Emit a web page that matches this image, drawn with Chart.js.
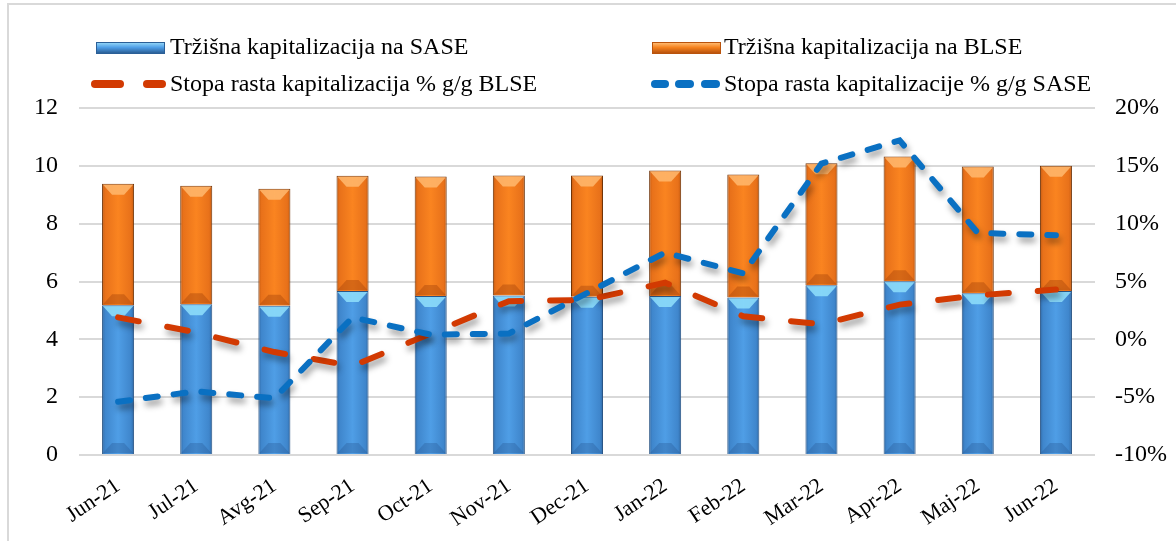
<!DOCTYPE html>
<html>
<head>
<meta charset="utf-8">
<script src="https://cdn.jsdelivr.net/npm/chart.js@4/dist/chart.umd.min.js"></script>
<style>
  html, body { margin: 0; padding: 0; background: #fff; }
  #wrap { position: relative; width: 1176px; height: 541px; overflow: hidden; font-family: "Liberation Serif", "Times New Roman", serif; }
  #frame { position: absolute; left: 7px; top: 3px; width: 1300px; height: 700px; border-left: 2px solid #d9d9d9; border-top: 2px solid #d9d9d9; }
  canvas { position: absolute; left: 0; top: 0; }
  .lg { position: absolute; font-size: 24px; color: #000; line-height: 24px; white-space: nowrap; }
  .mk { position: absolute; }
</style>
</head>
<body>
<div id="wrap">
  <div id="frame"></div>
  <canvas id="c" width="1176" height="541"></canvas>
  <div id="legend"></div>
</div>
<script>
const categories = ['Jun-21','Jul-21','Avg-21','Sep-21','Oct-21','Nov-21','Dec-21','Jan-22','Feb-22','Mar-22','Apr-22','Maj-22','Jun-22'];
const kapSASE = [5.18, 5.21, 5.16, 5.67, 5.50, 5.52, 5.47, 5.50, 5.45, 5.87, 6.01, 5.59, 5.67];
const kapBLSE = [4.20, 4.10, 4.05, 3.99, 4.13, 4.15, 4.20, 4.34, 4.25, 4.22, 4.31, 4.39, 4.33];
const rastBLSE = [1.9, 0.6, -1.1, -2.3, 0.5, 3.3, 3.4, 4.9, 2.0, 1.3, 3.0, 3.8, 4.3];
const rastSASE = [-5.4, -4.5, -5.1, 1.9, 0.4, 0.5, 4.0, 7.5, 5.7, 15.2, 17.2, 9.2, 9.0];
const leftTicks = [0, 2, 4, 6, 8, 10, 12];
const rightTicks = [-10, -5, 0, 5, 10, 15, 20];
const seriesNames = ['Tržišna kapitalizacija na SASE', 'Tržišna kapitalizacija na BLSE', 'Stopa rasta kapitalizacija % g/g BLSE', 'Stopa rasta kapitalizacije % g/g SASE'];

const FONT = '"Liberation Serif", "Times New Roman", serif';

function barGradient(ctx, stops) {
  const chart = ctx.chart;
  const xs = chart.scales && chart.scales.x;
  if (!chart.chartArea || !xs || ctx.type !== 'data') return stops[2];
  const cx = xs.getPixelForValue(ctx.dataIndex);
  const half = 17;
  const g = chart.ctx.createLinearGradient(cx - half, 0, cx + half, 0);
  g.addColorStop(0, stops[0]);
  g.addColorStop(0.12, stops[1]);
  g.addColorStop(0.5, stops[2]);
  g.addColorStop(0.88, stops[1]);
  g.addColorStop(1, stops[0]);
  return g;
}
const blueStops = ['#2b5f97', '#3f86cc', '#4f9ee6'];
const orangeStops = ['#b9530c', '#e8711a', '#fa8420'];

const bevelPlugin = {
  id: 'bevel',
  afterDatasetDraw(chart, args) {
    const ds = chart.data.datasets[args.index];
    if (ds.type !== 'bar') return;
    const ctx = chart.ctx;
    const meta = args.meta;
    ctx.save();
    meta.data.forEach(el => {
      const w = el.width, x = el.x, y = el.y, b = el.base;
      const h = 11;
      ctx.beginPath();
      ctx.moveTo(x - w/2 + 1, y + 1);
      ctx.lineTo(x + w/2 - 1, y + 1);
      ctx.lineTo(x + w/2 - 10, y + h);
      ctx.lineTo(x - w/2 + 10, y + h);
      ctx.closePath();
      ctx.fillStyle = ds.bevelTop;
      ctx.fill();
      ctx.beginPath();
      ctx.moveTo(x - w/2 + 1, b - 1);
      ctx.lineTo(x + w/2 - 1, b - 1);
      ctx.lineTo(x + w/2 - 10, b - h);
      ctx.lineTo(x - w/2 + 10, b - h);
      ctx.closePath();
      ctx.fillStyle = ds.bevelBottom;
      ctx.fill();
    });
    ctx.restore();
  }
};
const shadowPlugin = {
  id: 'lineShadow',
  beforeDatasetDraw(chart, args) {
    const ds = chart.data.datasets[args.index];
    if (ds.type !== 'line') return;
    const ctx = chart.ctx;
    ctx.save();
    ctx.shadowColor = 'rgba(0,0,0,0.38)';
    ctx.shadowBlur = 6;
    ctx.shadowOffsetX = 2;
    ctx.shadowOffsetY = 5;
  },
  afterDatasetDraw(chart, args) {
    const ds = chart.data.datasets[args.index];
    if (ds.type !== 'line') return;
    chart.ctx.restore();
  }
};

new Chart(document.getElementById('c'), {
  data: {
    labels: categories,
    datasets: [
      { type: 'bar', label: seriesNames[0], data: kapSASE, yAxisID: 'y', stack: 's', order: 2,
        backgroundColor: c => barGradient(c, blueStops), borderColor: '#2a5585', borderWidth: 1,
        bevelTop: 'rgba(140,220,250,0.9)', bevelBottom: 'rgba(40,90,150,0.35)' },
      { type: 'bar', label: seriesNames[1], data: kapBLSE, yAxisID: 'y', stack: 's', order: 3,
        backgroundColor: c => barGradient(c, orangeStops), borderColor: '#6e3308', borderWidth: 1,
        bevelTop: 'rgba(255,185,110,0.85)', bevelBottom: 'rgba(170,70,10,0.45)' },
      { type: 'line', label: seriesNames[2], data: rastBLSE, yAxisID: 'y1', order: 1,
        borderColor: '#d23a02', borderWidth: 6, borderDash: [21, 29], borderCapStyle: 'round',
        pointRadius: 0, tension: 0, fill: false },
      { type: 'line', label: seriesNames[3], data: rastSASE, yAxisID: 'y1', order: 0,
        borderColor: '#0a70c2', borderWidth: 6, borderDash: [12, 16], borderCapStyle: 'round',
        pointRadius: 0, tension: 0, fill: false }
    ]
  },
  options: {
    responsive: false,
    devicePixelRatio: 1,
    animation: false,
    layout: { padding: { top: 108, left: 0, right: 0, bottom: 0 } },
    plugins: { legend: { display: false }, tooltip: { enabled: false }, title: { display: false } },
    datasets: { bar: { categoryPercentage: 1, barPercentage: 0.41 } },
    scales: {
      x: {
        stacked: true,
        grid: { display: false, drawTicks: false },
        border: { display: false },
        ticks: { color: '#000', font: { family: FONT, size: 22 }, minRotation: 34, maxRotation: 34, padding: 18, autoSkip: false },
        afterFit: s => { s.height = 86; }
      },
      y: {
        position: 'left', stacked: true, min: 0, max: 12,
        grid: { color: '#d9d9d9', lineWidth: 2, drawTicks: false },
        border: { display: false },
        afterBuildTicks: s => { s.ticks = leftTicks.map(v => ({ value: v })); },
        ticks: { color: '#000', font: { family: FONT, size: 24 }, padding: 21 },
        afterFit: s => { s.width = 79; }
      },
      y1: {
        position: 'right', min: -10, max: 20,
        grid: { display: false, drawTicks: false },
        border: { display: false },
        afterBuildTicks: s => { s.ticks = rightTicks.map(v => ({ value: v })); },
        ticks: { color: '#000', font: { family: FONT, size: 24 }, padding: 20, callback: v => v + '%' },
        afterFit: s => { s.width = 81; }
      }
    }
  },
  plugins: [bevelPlugin, shadowPlugin]
});

// Legend (HTML, two columns x two rows)
const legendItems = [
  { name: seriesNames[0], kind: 'bar', colors: ['#8fd3f7', '#4f9ee6', '#2b5f97'], mx: 96, tx: 170, cy: 47 },
  { name: seriesNames[1], kind: 'bar', colors: ['#ffb96e', '#f5821f', '#b9530c'], mx: 652, tx: 724, cy: 47 },
  { name: seriesNames[2], kind: 'line', color: '#d23a02', dashes: [[91, 124], [143, 166]], tx: 170, cy: 84 },
  { name: seriesNames[3], kind: 'line', color: '#0a70c2', dashes: [[651, 669], [675, 694], [701, 720]], tx: 724, cy: 84 }
];
const lg = document.getElementById('legend');
legendItems.forEach(it => {
  if (it.kind === 'bar') {
    const m = document.createElement('div');
    m.className = 'mk';
    m.style.left = it.mx + 'px'; m.style.top = (it.cy - 5) + 'px';
    m.style.width = '67px'; m.style.height = '10px';
    m.style.background = 'linear-gradient(to bottom,' + it.colors[0] + ' 0%,' + it.colors[1] + ' 45%,' + it.colors[2] + ' 100%)';
    m.style.border = '1px solid ' + it.colors[2];
    lg.appendChild(m);
  } else {
    it.dashes.forEach(d => {
      const m = document.createElement('div');
      m.className = 'mk';
      m.style.left = d[0] + 'px'; m.style.top = (it.cy - 4) + 'px';
      m.style.width = (d[1] - d[0]) + 'px'; m.style.height = '8px';
      m.style.borderRadius = '4px';
      m.style.background = it.color;
      lg.appendChild(m);
    });
  }
  const t = document.createElement('div');
  t.className = 'lg';
  t.textContent = it.name;
  t.style.left = it.tx + 'px';
  t.style.top = (it.cy - 13) + 'px';
  lg.appendChild(t);
});
</script>
</body>
</html>
